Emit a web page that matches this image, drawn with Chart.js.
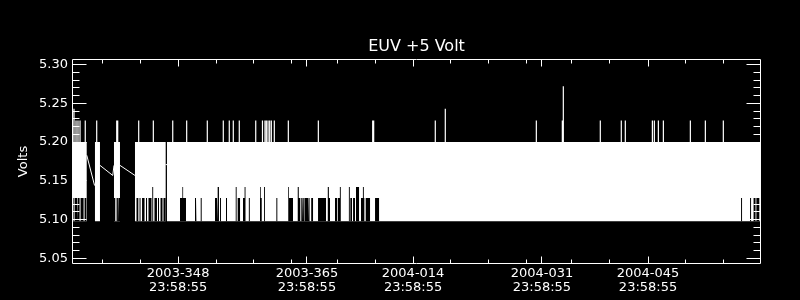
<!DOCTYPE html>
<html><head><meta charset="utf-8">
<style>html,body{margin:0;padding:0;background:#000;}canvas{display:block;}</style>
<script src="https://cdn.jsdelivr.net/npm/chart.js@4.4.1/dist/chart.umd.min.js"></script>
</head><body>
<canvas id="c" width="800" height="300"></canvas>
<script>
// ---------- labels ----------
const chartTitle = 'EUV +5 Volt';
const yAxisTitle = 'Volts';
// x unit: days since 2003-348 23:58:55
const xMajorDays  = [0, 17, 31, 48, 62];
const xMajorDates = ['2003-348', '2003-365', '2004-014', '2004-031', '2004-045'];
const xMajorTimes = ['23:58:55', '23:58:55', '23:58:55', '23:58:55', '23:58:55'];
const xMinorDays  = [-10, -5, 5, 10, 15, 21, 26, 36, 41, 46, 51.9, 56.9, 66.9, 71.9];
const xRange = [-14.0, 76.9];
const yMajorTicks = [5.05, 5.10, 5.15, 5.20, 5.25, 5.30];
const yMinorTicks = [5.06, 5.07, 5.08, 5.09, 5.11, 5.12, 5.13, 5.14, 5.16, 5.17, 5.18, 5.19,
                     5.21, 5.22, 5.23, 5.24, 5.26, 5.27, 5.28, 5.29];
const yRange = [5.0429, 5.3071];

// ---------- data (volts) ----------
const vLow = 5.098;   // lower level of the dense band
const vHigh = 5.200;  // upper level of the dense band

// stretches where readings toggle between vLow and vHigh (days)
const bandStart = [-14.0, -10.97, -8.46, -5.69, -1.47];
const bandEnd   = [-12.06, -10.31, -7.67, -1.64, 76.9];

// isolated upward readings (day, volts)
const spikeDays = [-13.74, -13.47, -13.21, -12.94, -12.25, -10.74, -8.10, -7.97, -5.20, -3.27,
  -0.71, 1.13, 3.85, 5.96, 6.75, 7.28, 8.07, 10.24, 11.13, 11.46, 11.64, 11.86, 12.08, 12.30,
  12.69, 14.54, 18.50, 25.67, 25.80, 33.93, 35.25, 47.26, 50.69, 50.82, 55.70, 58.47, 59.00,
  62.57, 62.83, 63.36, 64.02, 67.58, 69.56, 71.93];
const spikeVolts = [5.243, 5.228, 5.228, 5.228, 5.228, 5.228, 5.228, 5.228, 5.228, 5.228,
  5.228, 5.228, 5.228, 5.228, 5.228, 5.228, 5.228, 5.228, 5.228, 5.228, 5.228, 5.228, 5.228, 5.228,
  5.228, 5.228, 5.228, 5.228, 5.228, 5.228, 5.243, 5.228, 5.228, 5.272, 5.228, 5.228, 5.228,
  5.228, 5.228, 5.228, 5.228, 5.228, 5.228, 5.228];

// stretches where the low readings stay above vLow (day range, lowest volts reached)
const liftStart = [-13.93, -13.66, -13.21, -12.87, -12.34, -8.46, -8.23, -8.05, -7.80,
  -5.49, -5.09, -4.76, -4.24, -3.91, -3.41, -3.12, -2.65, -2.32, -1.93,
  0.25, 0.56, 0.66, 2.23, 2.36, 2.98, 4.87, 5.26, 5.53, 6.32, 7.60, 7.86, 8.56, 8.77, 9.33,
  10.80, 10.90, 11.33, 12.96, 13.97, 14.53, 14.63, 15.71, 15.80, 15.92, 16.25, 16.44, 16.58,
  16.74, 17.24, 17.43, 17.56, 18.46, 19.65, 19.77, 19.89, 20.70, 21.06, 21.34, 22.53, 22.72,
  23.08, 23.47, 24.13, 24.38, 24.50, 24.75, 25.98, 26.64, 50.12, 74.27, 75.46, 75.92, 76.29];
const liftEnd = [-13.79, -13.34, -13.00, -12.47, -12.11, -8.33, -8.14, -7.88, -7.67,
  -5.25, -4.96, -4.43, -4.10, -3.51, -3.29, -2.79, -2.52, -2.06, -1.65,
  0.56, 0.66, 1.04, 2.36, 2.49, 3.11, 5.13, 5.39, 5.66, 6.45, 7.72, 8.17, 8.77, 8.89, 9.46,
  10.90, 11.03, 11.45, 13.09, 14.10, 14.63, 15.16, 15.80, 15.92, 16.12, 16.35, 16.52, 16.68,
  17.14, 17.34, 17.51, 17.80, 19.51, 19.77, 19.89, 20.04, 20.96, 21.34, 21.46, 22.65, 22.94,
  23.34, 23.87, 24.38, 24.50, 24.57, 25.32, 26.51, 26.76, 50.25, 74.40, 75.59, 76.18, 76.71];
const liftVolts = [5.128, 5.128, 5.128, 5.128, 5.128, 5.128, 5.128, 5.128, 5.128,
  5.128, 5.128, 5.128, 5.128, 5.128, 5.142, 5.128, 5.128, 5.128, 5.128,
  5.128, 5.142, 5.128, 5.128, 5.142, 5.128, 5.128, 5.142, 5.128, 5.128, 5.142, 5.128, 5.128, 5.142, 5.128,
  5.142, 5.128, 5.142, 5.128, 5.128, 5.142, 5.128, 5.128, 5.142, 5.128, 5.128, 5.128, 5.128,
  5.128, 5.128, 5.128, 5.128, 5.128, 5.128, 5.142, 5.128, 5.128, 5.128, 5.142, 5.142, 5.128,
  5.128, 5.142, 5.128, 5.142, 5.128, 5.128, 5.128, 5.142, 5.128, 5.128, 5.128, 5.128, 5.128];

// sparse readings joined across data gaps (null = break)
const gapDays  = [-12.05, -11.02, null, -10.31, -8.62, -8.46, null, -7.67, -5.69, null, -1.65, -1.47];
const gapVolts = [5.183, 5.144, null, 5.170, 5.157, 5.170, null, 5.170, 5.157, null, 5.171, 5.171];

// ---------- build datasets ----------
function rectPoints(starts, ends, tops, base) {
  const pts = [];
  for (let i = 0; i < starts.length; i++) {
    const t = Array.isArray(tops) ? tops[i] : tops;
    pts.push({x: starts[i], y: base}, {x: starts[i], y: t}, {x: ends[i], y: t}, {x: ends[i], y: base});
  }
  return pts;
}
const spikePts = [];
spikeDays.forEach((d, i) => { spikePts.push({x: d, y: vHigh}, {x: d, y: spikeVolts[i]}, {x: d, y: null}); });
const gapPts = gapDays.map((d, i) => ({x: d === null ? (gapDays[i-1]) : d, y: gapVolts[i]}));

const FONT = 'DejaVu Sans';

const framePlugin = {
  id: 'frame',
  beforeDraw(c) {
    const ctx = c.ctx; ctx.save(); ctx.fillStyle = '#000'; ctx.fillRect(0, 0, c.width, c.height); ctx.restore();
  },
  afterDatasetsDraw(c) {
    const {ctx, chartArea: a, scales: {x, y}} = c;
    ctx.save();
    ctx.strokeStyle = '#fff'; ctx.lineWidth = 1;
    const L = a.left + 0.5, R = a.right - 0.5, T = a.top + 0.5, B = a.bottom - 0.5;
    ctx.beginPath();
    ctx.rect(L, T, R - L, B - T);
    const xt = (v, len) => { const p = Math.floor(x.getPixelForValue(v)) + 0.5;
      ctx.moveTo(p, B); ctx.lineTo(p, B - len); ctx.moveTo(p, T); ctx.lineTo(p, T + len); };
    xMajorDays.forEach(v => xt(v, 7)); xMinorDays.forEach(v => xt(v, 4));
    const yt = (v, len) => { const p = Math.floor(y.getPixelForValue(v)) + 0.5;
      ctx.moveTo(L, p); ctx.lineTo(L + len, p); ctx.moveTo(R, p); ctx.lineTo(R - len, p); };
    yMajorTicks.forEach(v => yt(v, 14)); yMinorTicks.forEach(v => yt(v, 7));
    ctx.stroke();
    ctx.restore();
  }
};

new Chart(document.getElementById('c'), {
  type: 'line',
  data: {
    datasets: [
      { label: 'band', data: rectPoints(bandStart, bandEnd, vHigh, vLow), order: 4,
        borderColor: 'rgba(0,0,0,0)', borderWidth: 0, backgroundColor: '#fff', fill: {value: vLow} },
      { label: 'lift', data: rectPoints(liftStart, liftEnd, liftVolts, vLow), order: 3,
        borderColor: 'rgba(0,0,0,0)', borderWidth: 0, backgroundColor: '#000', fill: {value: vLow} },
      { label: 'spikes', data: spikePts, order: 2, borderColor: '#fff', borderWidth: 1.2, fill: false, spanGaps: false },
      { label: 'gaps', data: gapPts, order: 1, borderColor: '#fff', borderWidth: 1, fill: false, spanGaps: false }
    ]
  },
  options: {
    responsive: false, animation: false, devicePixelRatio: 1,
    elements: { point: { radius: 0, hoverRadius: 0 }, line: { tension: 0 } },
    layout: { padding: { left: 0, right: 39, top: 0, bottom: 0 } },
    plugins: {
      legend: { display: false }, tooltip: { enabled: false },
      title: { display: true, text: chartTitle, color: '#fff', fullSize: false,
        font: { family: FONT, size: 16, weight: 'normal', lineHeight: 1.2 },
        padding: { top: 37.25, bottom: 2.55 } }
    },
    scales: {
      x: { type: 'linear', min: xRange[0], max: xRange[1],
        grid: { display: false, drawTicks: false }, border: { display: false },
        afterBuildTicks: s => { s.ticks = xMajorDays.map(v => ({value: v})); },
        afterFit: s => { s.height = 36; },
        ticks: { color: '#fff', autoSkip: false, maxRotation: 0, padding: 3.25,
          font: { family: FONT, size: 13, lineHeight: 1.04 },
          callback: v => { const i = xMajorDays.indexOf(v); return i < 0 ? '' : [xMajorDates[i], xMajorTimes[i]]; } } },
      y: { type: 'linear', min: yRange[0], max: yRange[1],
        grid: { display: false, drawTicks: false }, border: { display: false },
        afterBuildTicks: s => { s.ticks = yMajorTicks.map(v => ({value: v})); },
        afterFit: s => { s.width = 72; },
        title: { display: true, text: yAxisTitle, color: '#fff',
          font: { family: FONT, size: 13, lineHeight: 1.2 }, padding: { top: 15.5, bottom: 0 } },
        ticks: { color: '#fff', padding: 4, font: { family: FONT, size: 13 },
          callback: v => v.toFixed(2) } }
    }
  },
  plugins: [framePlugin]
});
</script>
</body></html>
